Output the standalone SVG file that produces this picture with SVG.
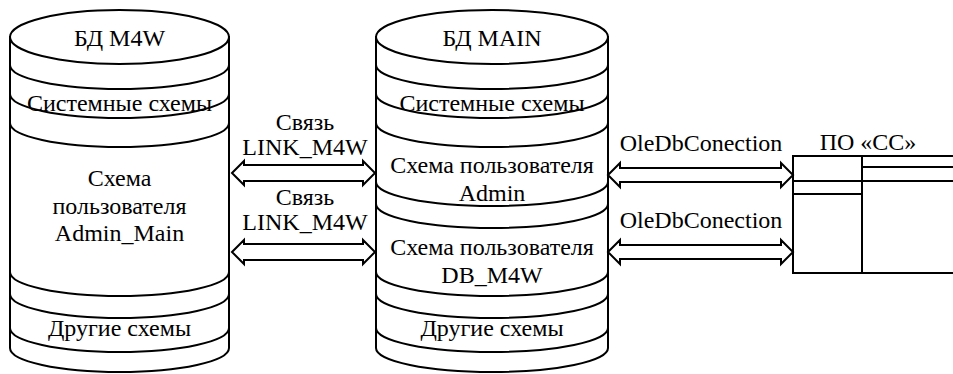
<svg xmlns="http://www.w3.org/2000/svg" width="953" height="374" viewBox="0 0 953 374">
  <style>
    .ln { fill: none; stroke: #000; stroke-width: 2; }
    .body { fill: #fff; stroke: #000; stroke-width: 2; }
    .arrow { fill: #fff; stroke: #000; stroke-width: 2; stroke-linejoin: miter; }
    .t { font-size: 24px; fill: #000; }
  </style>
  <rect width="953" height="374" fill="#fff"/>

  <!-- Database M4W -->
  <g id="db-m4w">
    <path class="body" d="M10,37 L10,348 A109.5,24 0 0 0 229,348 L229,37 Z"/>
    <ellipse class="body" cx="119.5" cy="37" rx="109.5" ry="27"/>
    <path class="ln" d="M10,65 A109.5,24 0 0 0 229,65"/>
    <path class="ln" d="M10,94 A109.5,24 0 0 0 229,94"/>
    <path class="ln" d="M10,123 A109.5,24 0 0 0 229,123"/>
    <path class="ln" d="M10,272 A109.5,24 0 0 0 229,272"/>
    <path class="ln" d="M10,294 A109.5,24 0 0 0 229,294"/>
    <path class="ln" d="M10,328 A109.5,24 0 0 0 229,328"/>
    <text class="t" style="font-family: 'Liberation Serif'" text-anchor="middle" x="119.5" y="46">БД M4W</text>
    <text class="t" style="font-family: 'Liberation Serif'" text-anchor="middle" x="119.5" y="111">Системные схемы</text>
    <text class="t" style="font-family: 'Liberation Serif'" text-anchor="middle" x="119.5" y="186">Схема</text>
    <text class="t" style="font-family: 'Liberation Serif'" text-anchor="middle" x="119.5" y="214">пользователя</text>
    <text class="t" style="font-family: 'Liberation Serif'" text-anchor="middle" x="119.5" y="241">Admin_Main</text>
    <text class="t" style="font-family: 'Liberation Serif'" text-anchor="middle" x="119.5" y="336">Другие схемы</text>
  </g>

  <!-- Database MAIN -->
  <g id="db-main">
    <path class="body" d="M376,37 L376,348 A116,24 0 0 0 608,348 L608,37 Z"/>
    <ellipse class="body" cx="492" cy="37" rx="116" ry="27"/>
    <path class="ln" d="M376,65 A116,24 0 0 0 608,65"/>
    <path class="ln" d="M376,94 A116,24 0 0 0 608,94"/>
    <path class="ln" d="M376,123 A116,24 0 0 0 608,123"/>
    <path class="ln" d="M376,182 A116,24 0 0 0 608,182"/>
    <path class="ln" d="M376,204 A116,24 0 0 0 608,204"/>
    <path class="ln" d="M376,272 A116,24 0 0 0 608,272"/>
    <path class="ln" d="M376,294 A116,24 0 0 0 608,294"/>
    <path class="ln" d="M376,328 A116,24 0 0 0 608,328"/>
    <text class="t" style="font-family: 'Liberation Serif'" text-anchor="middle" x="492" y="46">БД MAIN</text>
    <text class="t" style="font-family: 'Liberation Serif'" text-anchor="middle" x="492" y="111">Системные схемы</text>
    <text class="t" style="font-family: 'Liberation Serif'" text-anchor="middle" x="492" y="173">Схема пользователя</text>
    <text class="t" style="font-family: 'Liberation Serif'" text-anchor="middle" x="492" y="201">Admin</text>
    <text class="t" style="font-family: 'Liberation Serif'" text-anchor="middle" x="492" y="255">Схема пользователя</text>
    <text class="t" style="font-family: 'Liberation Serif'" text-anchor="middle" x="492" y="283">DB_M4W</text>
    <text class="t" style="font-family: 'Liberation Serif'" text-anchor="middle" x="492" y="336">Другие схемы</text>
  </g>

  <!-- Client software block, open to the right -->
  <g id="po-cc">
    <path class="ln" d="M955,156 L793,156 L793,273 L955,273"/>
    <path class="ln" d="M862,156 L862,273"/>
    <path class="ln" d="M793,181 L955,181"/>
    <path class="ln" d="M793,194 L862,194"/>
    <path class="ln" d="M862,167 L955,167"/>
    <text class="t" style="font-family: 'Liberation Serif'" text-anchor="middle" x="868" y="150">ПО «СС»</text>
  </g>

  <!-- Connectors: hollow double-headed arrows -->
  <g id="connectors">
    <polygon class="arrow" points="232,173 244,161 244,165 363,165 363,161 375,173 363,185 363,181 244,181 244,185"/>
    <polygon class="arrow" points="232,252 244,240 244,244 363,244 363,240 375,252 363,264 363,260 244,260 244,264"/>
    <polygon class="arrow" points="608,175 620,163 620,168 781,168 781,163 793,175 781,187 781,182 620,182 620,187"/>
    <polygon class="arrow" points="608,252 620,240 620,245 781,245 781,240 793,252 781,264 781,259 620,259 620,264"/>
    <text class="t" style="font-family: 'Liberation Serif'" text-anchor="middle" x="305" y="130">Связь</text>
    <text class="t" style="font-family: 'Liberation Serif'" text-anchor="middle" x="305" y="155">LINK_M4W</text>
    <text class="t" style="font-family: 'Liberation Serif'" text-anchor="middle" x="305" y="205">Связь</text>
    <text class="t" style="font-family: 'Liberation Serif'" text-anchor="middle" x="305" y="230">LINK_M4W</text>
    <text class="t" style="font-family: 'Liberation Serif'" text-anchor="middle" x="701" y="151">OleDbConection</text>
    <text class="t" style="font-family: 'Liberation Serif'" text-anchor="middle" x="701" y="228">OleDbConection</text>
  </g>
</svg>
